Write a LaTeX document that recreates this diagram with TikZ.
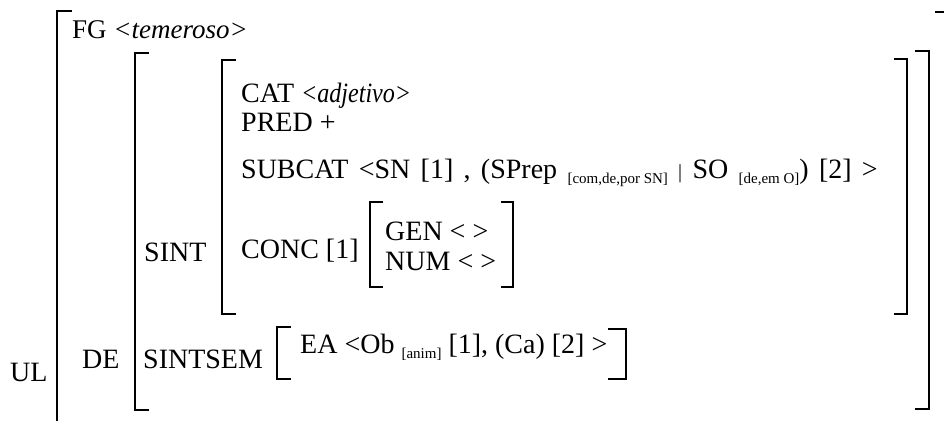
\documentclass[tikz,border=0pt]{standalone}
\usepackage{fontspec}
\setmainfont{Liberation Serif}
\newcommand\mysubtxt[1]{\raisebox{-5pt}{\spaceskip=0pt\fontsize{15}{15}\selectfont #1}}
\tikzset{
  lbl/.style={anchor=base west, inner sep=0pt, font=\fontsize{28}{30}\selectfont},
  lblsmall/.style={anchor=base west, inner sep=0pt, font=\fontsize{27}{29}\selectfont},
  brk/.style={line width=1.4pt, line cap=butt, line join=miter}
}
\begin{document}
\begin{tikzpicture}[x=1pt,y=-1pt]
\path[use as bounding box, fill=white] (0,0) rectangle (944,421);
% outer bracket
\draw[brk] (72,11) -- (57,11) -- (57,421);
\draw[brk] (935,12) -- (944,12);
% DE bracket
\draw[brk] (149,53) -- (135,53) -- (135,410) -- (149,410);
\draw[brk] (915,51) -- (929,51) -- (929,409) -- (915,409);
% SINT bracket
\draw[brk] (236,60) -- (222,60) -- (222,314) -- (236,314);
\draw[brk] (894,59) -- (907,59) -- (907,314) -- (894,314);
% GEN/NUM bracket
\draw[brk] (383,202) -- (370,202) -- (370,287) -- (383,287);
\draw[brk] (501,202) -- (513,202) -- (513,287) -- (501,287);
% EA bracket
\draw[brk] (291,327) -- (277,327) -- (277,379) -- (291,379);
\draw[brk] (608,329) -- (626,329) -- (626,379) -- (608,379);
% texts
\node[lblsmall] (fg) at (72,38) {FG \textit{<temeroso>}};
\node[lbl] (cat) at (241,102) {CAT \scalebox{0.86}[1]{\textit{<adjetivo>}}};
\node[lbl] (pred) at (241,131) {PRED +};
\node[lbl] (subcat) at (241,178) {\spaceskip=10.3pt plus 1pt SUBCAT <SN [1] , (SPrep \mysubtxt{[com,de,por SN]} {\fontsize{20}{20}\selectfont |} SO \mysubtxt{[de,em O]}) [2] >};
\node[lbl] (conc) at (241,258) {CONC [1]};
\node[lbl] (sint) at (144,261) {SINT};
\node[lbl] (gen) at (385,240) {GEN < >};
\node[lbl] (num) at (385,270) {NUM < >};
\node[lbl] (de) at (82,368) {DE};
\node[lbl] (sintsem) at (143,368) {SINTSEM};
\node[lbl] (ea) at (300,353) {EA <Ob \mysubtxt{[anim]} [1], (Ca) [2] >};
\node[lbl] (ul) at (10,381) {UL};
\end{tikzpicture}
\end{document}
